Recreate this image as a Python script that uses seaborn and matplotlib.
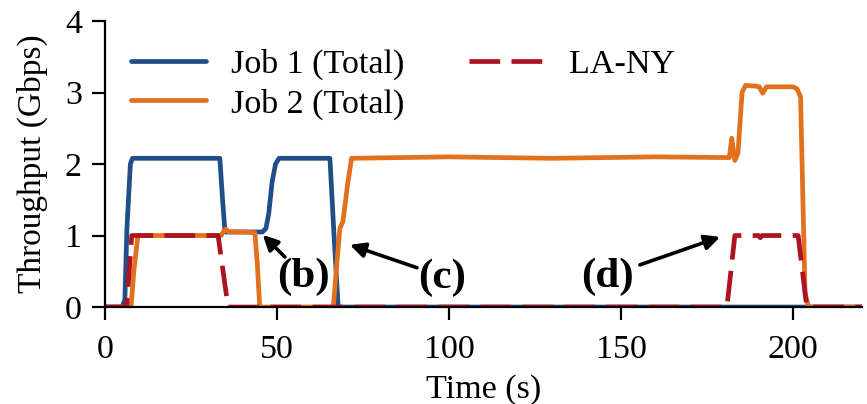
import matplotlib
matplotlib.use("Agg")
import matplotlib.pyplot as plt
import seaborn as sns
import pandas as pd

# Throughput traces (time in s, rate in Gbps)
job1_t = [0, 5.0, 5.8, 6.4, 7.4, 8.0, 20, 33.4, 34.2, 34.9, 40, 45.8, 46.8, 47.6, 48.6, 49.6, 50.6, 60, 65.4, 66.6, 67.8, 100, 150, 200, 220]
job1_v = [0, 0, 0.1, 1.1, 2.0, 2.08, 2.08, 2.08, 1.5, 1.05, 1.05, 1.05, 1.1, 1.3, 1.75, 2.0, 2.08, 2.08, 2.08, 1.0, 0, 0, 0, 0, 0]

job2_t = [0, 7.6, 8.4, 9.6, 20, 33.8, 34.5, 35.2, 36.0, 40, 43.6, 44.3, 45.0, 55, 66.4, 67.4, 68.3, 69.2, 70.5, 71.7, 100, 130, 160, 181.5, 182.2, 183.1, 184.0, 185.2, 186.2, 189.0, 190.2, 191.2, 192.3, 200, 201.2, 202.2, 203.5, 204.5, 220]
job2_v = [0, 0, 0.5, 1.0, 1.0, 1.0, 1.06, 1.09, 1.05, 1.05, 1.04, 0.6, 0, 0, 0, 0.6, 1.1, 1.2, 1.7, 2.08, 2.1, 2.08, 2.1, 2.09, 2.36, 2.05, 2.15, 3.0, 3.1, 3.09, 3.08, 2.99, 3.08, 3.08, 3.05, 2.94, 0.2, 0, 0]

lany_t = [0, 6.3, 7.8, 20, 32.9, 35.8, 100, 180.8, 183.1, 190.0, 190.5, 191.0, 201.5, 204.0, 220]
lany_v = [0, 0, 1.0, 1.0, 1.0, 0, 0, 0, 1.0, 1.0, 0.97, 1.0, 1.0, 0, 0]

series_names = ["Job 1 (Total)", "Job 2 (Total)", "LA-NY"]

# Callouts: label, arrow tip (t, Gbps), arrow tail, label centre
callout_labels = ["(b)", "(c)", "(d)"]
callout_tips = [(45.9, 1.01), (71.2, 0.87), (178.8, 0.98)]
callout_tails = [(52.3, 0.70), (90.7, 0.55), (155.5, 0.59)]
callout_text = [(57.8, 0.42), (98.0, 0.41), (146.0, 0.42)]

sns.set_style("ticks")
plt.rcParams["font.family"] = ["Liberation Serif", "DejaVu Serif"]
plt.rcParams.update({
    "axes.linewidth": 1.6,
    "text.color": "black",
    "axes.labelcolor": "black",
    "axes.edgecolor": "black",
    "xtick.color": "black",
    "ytick.color": "black",
})

fig = plt.figure(figsize=(8.67, 4.04), dpi=100)
ax = fig.add_axes([0.121, 0.240, 0.873, 0.708])

blue = "#1f4e89"
orange = "#e2701c"
red = "#ad1421"
lw = 3.4
fs = 24.5

d1 = pd.DataFrame({"t": job1_t, "v": job1_v})
d2 = pd.DataFrame({"t": job2_t, "v": job2_v})
d3 = pd.DataFrame({"t": lany_t, "v": lany_v})

sns.lineplot(data=d1, x="t", y="v", ax=ax, color=blue, linewidth=lw,
             estimator=None, sort=False, label=series_names[0], zorder=2)
sns.lineplot(data=d2, x="t", y="v", ax=ax, color=orange, linewidth=lw,
             estimator=None, sort=False, label=series_names[1], zorder=3)
sns.lineplot(data=d3, x="t", y="v", ax=ax, color=red, linewidth=lw,
             estimator=None, sort=False, label=series_names[2], zorder=4)
ax.lines[-1].set_dashes((6.5, 2.4))

ax.set_xlim(0, 220)
ax.set_ylim(0, 4)
ax.set_xticks([0, 50, 100, 150, 200])
ax.set_yticks([0, 1, 2, 3, 4])
ax.tick_params(axis="both", labelsize=fs, length=9.5, width=1.6, direction="out", pad=7)
ax.tick_params(axis="x", pad=10)
ax.set_xlabel("Time (s)", fontsize=fs, labelpad=7)
ax.set_ylabel("Throughput (Gbps)", fontsize=24, labelpad=12)
sns.despine(ax=ax)

for spine in ax.spines.values():
    spine.set_zorder(5)
    spine.set_clip_on(False)

handles, labels = ax.get_legend_handles_labels()
leg = ax.legend(handles, labels, ncol=2, loc="upper left",
                bbox_to_anchor=(0.017, 0.95), frameon=False, fontsize=fs,
                handlelength=2.2, handletextpad=0.73, columnspacing=1.9,
                labelspacing=0.24, borderaxespad=0)
for h in leg.get_lines():
    h.set_linewidth(3.4)

for lab, tip, tail, txt in zip(callout_labels, callout_tips, callout_tails, callout_text):
    ax.annotate("", xy=tip, xytext=tail,
                arrowprops=dict(arrowstyle="-|>,head_length=0.9,head_width=0.45",
                                color="black", lw=2.6, shrinkA=0, shrinkB=0),
                zorder=6)
    ax.text(txt[0], txt[1], lab, fontsize=31, fontweight="bold",
            ha="center", va="center", zorder=6)

fig.savefig("out.png", dpi=100)
